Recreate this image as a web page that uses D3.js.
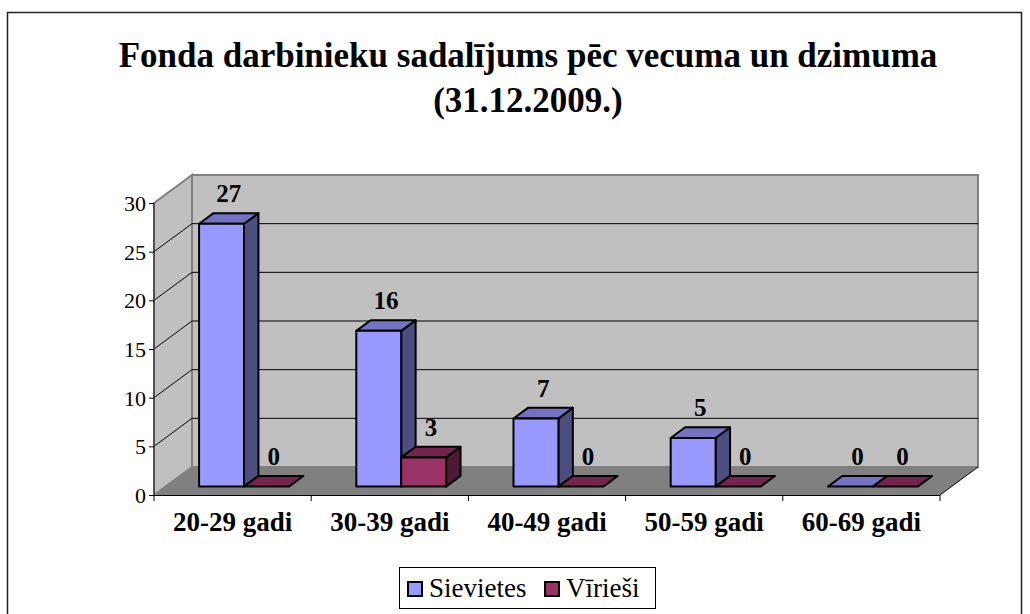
<!DOCTYPE html>
<head>
  <meta charset="utf-8" />
  <script src="https://d3js.org/d3.v7.min.js"></script>
  <style>
    body { margin: 0; background: #fff; }
    text { font-family: "Liberation Serif", "Times New Roman", serif; fill: #000; }
  </style>
</head>
<body>
<script>
  // data
  var categories = ["20-29 gadi", "30-39 gadi", "40-49 gadi", "50-59 gadi", "60-69 gadi"];
  var seriesNames = ["Sievietes", "Vīrieši"];
  var sievietes = [27, 16, 7, 5, 0];
  var viriesi = [0, 3, 0, 0, 0];
  var yTicks = [0, 5, 10, 15, 20, 25, 30];
  var titleLines = ["Fonda darbinieku sadalījums pēc vecuma un dzimuma", "(31.12.2009.)"];

  // colours: front, top, side
  var colors = [
    { front: "#9999ff", top: "#7373bf", side: "#4d4d80" },
    { front: "#993366", top: "#73264d", side: "#4d1a33" }
  ];

  var width = 1030, height = 614;
  var svg = d3.select("body").append("svg")
    .attr("width", width).attr("height", height);

  // outer chart border
  svg.append("rect")
    .attr("x", 7.5).attr("y", 12.5).attr("width", 1014).attr("height", 640)
    .attr("fill", "none").attr("stroke", "#222").attr("stroke-width", 1.5);

  // plot geometry (front plane) and depth offset
  var x0 = 154, x1 = 940, yBottom = 495, yTop = 203;
  var dx = 38, dy = -28;

  var x = d3.scaleBand().domain(categories).range([x0, x1]);
  var xs = d3.scaleBand().domain([0, 1]).range([0, x.bandwidth()])
    .paddingInner(0).paddingOuter(0.75);
  var y = d3.scaleLinear().domain([0, 30]).range([yBottom, yTop]);

  function P(px, py, f) { return [px + f * dx, py + f * dy]; }
  function poly(pts) { return "M" + pts.map(function (p) { return p.join(","); }).join("L") + "Z"; }

  var g = svg.append("g");

  // back wall
  g.append("path")
    .attr("d", poly([P(x0, y(0), 1), P(x1, y(0), 1), P(x1, y(30), 1), P(x0, y(30), 1)]))
    .attr("fill", "#c0c0c0").attr("stroke", "#808080").attr("stroke-width", 2);
  // left wall
  g.append("path")
    .attr("d", poly([P(x0, y(0), 0), P(x0, y(0), 1), P(x0, y(30), 1), P(x0, y(30), 0)]))
    .attr("fill", "#c0c0c0").attr("stroke", "#808080").attr("stroke-width", 2);
  // floor
  g.append("path")
    .attr("d", poly([P(x0, y(0), 0), P(x1, y(0), 0), P(x1, y(0), 1), P(x0, y(0), 1)]))
    .attr("fill", "#808080").attr("stroke", "none");

  // gridlines
  yTicks.filter(function (t) { return t > 0 && t < 30; }).forEach(function (t) {
    var a = P(x0, y(t), 0), b = P(x0, y(t), 1), c = P(x1, y(t), 1);
    g.append("path").attr("d", "M" + a + "L" + b + "L" + c)
      .attr("fill", "none").attr("stroke", "#000").attr("stroke-width", 1);
  });

  // floor edges
  g.append("line").attr("x1", x1).attr("y1", y(0)).attr("x2", x1 + dx).attr("y2", y(0) + dy)
    .attr("stroke", "#000").attr("stroke-width", 1);

  // value axis
  g.append("line").attr("x1", x0).attr("y1", y(0)).attr("x2", x0).attr("y2", y(30))
    .attr("stroke", "#404040").attr("stroke-width", 1.5);
  var yAxis = d3.axisLeft(y).tickValues(yTicks).tickSize(5).tickPadding(3);
  var ya = svg.append("g").attr("transform", "translate(" + x0 + ",0)").call(yAxis);
  ya.select(".domain").remove();
  ya.selectAll("line").attr("stroke", "#000");
  ya.selectAll("text").style("font-size", "22px").attr("dy", "0.34em");

  // category axis
  var xa = svg.append("g").attr("transform", "translate(0," + y(0) + ")")
    .call(d3.axisBottom(x).tickSize(0).tickPadding(0));
  xa.select(".domain").attr("stroke", "#000").attr("d", "M" + x0 + ",0.5H" + x1);
  xa.selectAll("text").style("font-size", "27px").style("font-weight", "bold").attr("y", 36).attr("dy", 0);
  var bounds = categories.map(function (c) { return x(c); }).concat([x1]);
  xa.selectAll(".bound").data(bounds).join("line").attr("class", "bound")
    .attr("x1", function (d) { return d; }).attr("x2", function (d) { return d; })
    .attr("y1", 0).attr("y2", 6).attr("stroke", "#000");

  // bars
  var f1 = 0.3, f2 = 0.68;
  var values = [sievietes, viriesi];
  var bars = g.append("g");
  var labels = g.append("g");
  categories.forEach(function (cat, i) {
    [0, 1].forEach(function (s) {
      var v = values[s][i];
      var bx0 = x(cat) + xs(s), bx1 = bx0 + xs.bandwidth();
      var c = colors[s];
      var attrs = function (sel) { return sel.attr("stroke", "#000").attr("stroke-width", 2).attr("stroke-linejoin", "round"); };
      if (v > 0) {
        attrs(bars.append("path").attr("d", poly([P(bx1, y(0), f1), P(bx1, y(0), f2), P(bx1, y(v), f2), P(bx1, y(v), f1)])).attr("fill", c.side));
        attrs(bars.append("path").attr("d", poly([P(bx0, y(v), f1), P(bx1, y(v), f1), P(bx1, y(v), f2), P(bx0, y(v), f2)])).attr("fill", c.top));
        attrs(bars.append("path").attr("d", poly([P(bx0, y(0), f1), P(bx1, y(0), f1), P(bx1, y(v), f1), P(bx0, y(v), f1)])).attr("fill", c.front));
      } else {
        attrs(bars.append("path").attr("d", poly([P(bx0, y(0), f1), P(bx1, y(0), f1), P(bx1, y(0), f2), P(bx0, y(0), f2)])).attr("fill", c.top));
      }
      var lp = P((bx0 + bx1) / 2, y(v), (f1 + f2) / 2);
      labels.append("text")
        .attr("x", lp[0]).attr("y", P(0, y(v), f2)[1] - 11)
        .attr("text-anchor", "middle")
        .style("font-size", "25px").style("font-weight", "bold")
        .text(v);
    });
  });

  // title
  svg.append("g").selectAll("text").data(titleLines).join("text")
    .attr("x", 528).attr("y", function (d, i) { return 67 + i * 45; })
    .attr("text-anchor", "middle")
    .style("font-size", "35px").style("font-weight", "bold")
    .text(function (d) { return d; });

  // legend
  var lg = svg.append("g");
  lg.append("rect").attr("x", 399.5).attr("y", 567.5).attr("width", 256).attr("height", 41)
    .attr("fill", "#fff").attr("stroke", "#000").attr("stroke-width", 1);
  var lx = [408, 545];
  seriesNames.forEach(function (name, s) {
    lg.append("rect").attr("x", lx[s]).attr("y", 582).attr("width", 14).attr("height", 14)
      .attr("fill", colors[s].front).attr("stroke", "#000").attr("stroke-width", 2);
    lg.append("text").attr("x", lx[s] + 21).attr("y", 597)
      .style("font-size", "27px").text(name);
  });
</script>
</body>
